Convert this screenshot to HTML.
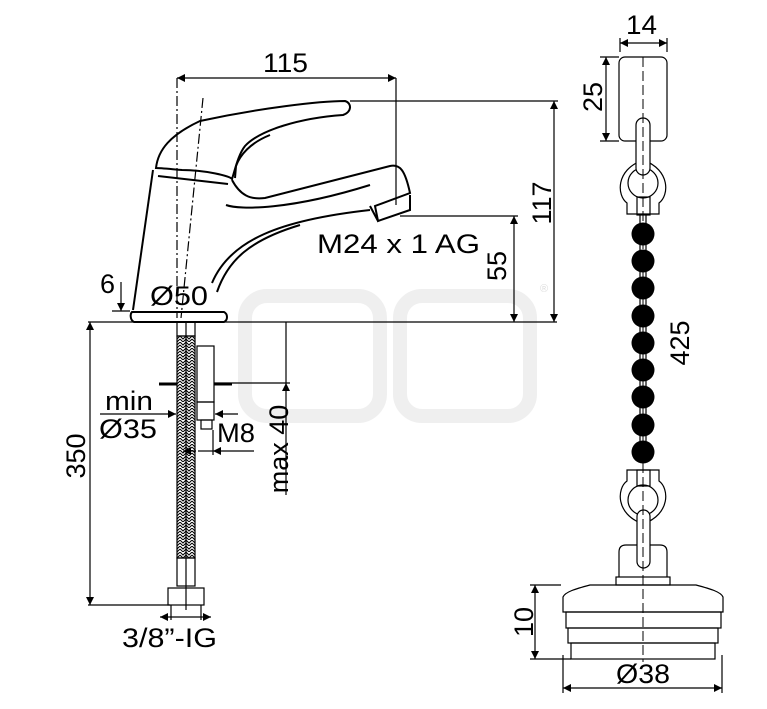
<!DOCTYPE html>
<html><head><meta charset="utf-8"><style>
html,body{margin:0;padding:0;background:#fff;width:767px;height:709px;overflow:hidden}
svg{display:block}
text{font-family:"Liberation Sans",sans-serif;fill:#000}
</style></head><body>
<svg width="767" height="709" viewBox="0 0 767 709" xmlns="http://www.w3.org/2000/svg">
<defs>
<marker id="a" viewBox="0 0 10 10" refX="10" refY="5" markerWidth="12" markerHeight="8" orient="auto-start-reverse" markerUnits="userSpaceOnUse"><path d="M0,0L10,5L0,10z" fill="#000"/></marker>
<pattern id="h" width="6" height="6" patternUnits="userSpaceOnUse"><path d="M0,0L3,3L6,0M0,3L3,6L6,3" stroke="#000" stroke-width="1" fill="none"/></pattern>
</defs>
<g fill="none" stroke="#efefef" stroke-width="14">
<rect x="245" y="296" width="135" height="120" rx="22"/>
<rect x="400" y="296" width="130" height="120" rx="22"/>
</g>
<text x="540" y="292" font-size="11" style="fill:#ddd">®</text>

<g stroke="#000" fill="none" stroke-width="1.2">
<g stroke-width="2">
<path d="M156,168 C158,150 170,135 200,121 C260,108 320,101 345,101 C352,103 352,112 343,115 C300,118 260,130 245,146 C238,155 235,170 232,179 C230,176 205,170 182,170 C170,169 160,168 156,168z"/>
<path d="M235,178 L236,166 C240,155 250,143 270,135"/>
<path d="M153,170 L133,310"/>
<path d="M158,176 L228,184"/>
<path d="M232,180 C240,195 250,200 265,198 L390,166 C400,164 405,170 410,193 L375,206 L378,221 L410,210 L410,195"/>
<path d="M370,206 L378,221"/>
<path d="M226,205 C240,210 290,210 370,185"/>
<path d="M212,283 C230,240 280,220 370,210"/>
<path d="M217,292 C228,260 250,240 300,225"/>
<path d="M132,312 L224,312 C228,314 228,320 224,322 L134,322 C130,320 130,314 132,312z"/>
</g>
<path d="M177,78 L177,318" stroke-dasharray="10,3,2,3"/>
<path d="M203,98 L181,318" stroke-dasharray="10,3,2,3"/>
<path d="M177,78 L396,78" marker-start="url(#a)" marker-end="url(#a)"/>
<path d="M396,78 L396,205"/>
<path d="M350,101 L558,101"/>
<path d="M554,101 L554,322" marker-start="url(#a)" marker-end="url(#a)"/>
<path d="M400,216 L518,216"/>
<path d="M514,216 L514,322" marker-start="url(#a)" marker-end="url(#a)"/>
<path d="M88,322 L557,322"/>
<path d="M121,282 L121,311" marker-end="url(#a)"/>
<path d="M112,311 L130,311"/>
<path d="M90,322 L90,605" marker-start="url(#a)" marker-end="url(#a)"/>
<path d="M88,605 L170,605"/>
<rect x="177" y="322" width="18" height="14"/>
<rect x="177" y="336" width="18" height="222" fill="url(#h)"/>
<rect x="177" y="558" width="18" height="28"/>
<rect x="168" y="588" width="36" height="17"/>
<path d="M186,322 L186,610"/>
<path d="M160,617 L211,617" marker-start="url(#a)" marker-end="url(#a)"/>
<path d="M171,605 L171,620 M201,605 L201,620"/>
<rect x="197" y="346" width="17" height="56"/>
<rect x="197" y="402" width="17" height="18"/>
<rect x="201" y="420" width="11" height="9"/>
<path d="M159,384 L177,384 M214,384 L232,384" stroke-width="3"/>
<path d="M214,383 L290,383"/>
<path d="M286,383 L286,495" marker-start="url(#a)"/>
<path d="M286,322 L286,383"/>
<path d="M100,414 L176,414" marker-end="url(#a)"/>
<path d="M238,414 L215,414" marker-end="url(#a)"/>
<path d="M254,451 L213,451" marker-end="url(#a)"/>
<path d="M196,451 L183,451" marker-end="url(#a)"/>
<path d="M213,430 L213,455"/>
<path d="M198,451 L213,451"/>

<!-- right: plug chain -->
<rect x="619" y="57" width="48" height="84" rx="6"/>
<path d="M620,43 L667,43" marker-start="url(#a)" marker-end="url(#a)"/>
<path d="M620,38 L620,52 M667,38 L667,52"/>
<path d="M606,57 L606,141" marker-start="url(#a)" marker-end="url(#a)"/>
<path d="M600,57 L619,57 M600,141 L619,141"/>
<rect x="640" y="214" width="6" height="245"/>
<path d="M627,214 L627,203 C617,196 615,170 643,160 C671,170 669,196 659,203 L659,214 Z" fill="#fff"/>
<circle cx="643" cy="183" r="15" fill="#fff"/>
<rect x="637" y="197" width="13" height="18"/>
<rect x="636" y="118" width="14" height="57" rx="7" fill="#fff"/>
<g fill="#000" stroke="none">
<circle cx="643" cy="234" r="11.5"/><circle cx="643" cy="261" r="11.5"/><circle cx="643" cy="288" r="11.5"/><circle cx="643" cy="316" r="11.5"/><circle cx="643" cy="343" r="11.5"/><circle cx="643" cy="370" r="11.5"/><circle cx="643" cy="397" r="11.5"/><circle cx="643" cy="425" r="11.5"/><circle cx="643" cy="452" r="11.5"/>
</g>
<path d="M627,470 L627,481 C617,488 615,514 643,524 C671,514 669,488 659,481 L659,470 Z" fill="#fff"/>
<circle cx="643" cy="500" r="15" fill="#fff"/>
<rect x="637" y="470" width="13" height="16"/>
<path d="M619,577 L619,552 C619,547 622,545 626,545 L660,545 C664,545 667,547 667,552 L667,577" fill="#fff"/>
<rect x="637" y="510" width="13" height="58" rx="6.5" fill="#fff"/>
<rect x="616" y="577" width="54" height="8"/>
<path d="M563,597 C565,592 575,589 590,585 L696,585 C711,589 721,592 723,597 L723,612 L563,612 Z"/>
<rect x="566" y="612" width="155" height="16"/>
<rect x="568" y="628" width="150" height="15"/>
<rect x="571" y="643" width="144" height="16"/>
<path d="M643,57 L643,662" stroke-dasharray="10,4" stroke-width="1"/>
<path d="M535,585 L535,659" marker-start="url(#a)" marker-end="url(#a)"/>
<path d="M530,585 L561,585 M530,659 L571,659"/>
<path d="M563,688 L722,688" marker-start="url(#a)" marker-end="url(#a)"/>
<path d="M563,655 L563,693 M722,655 L722,693"/>
</g>

<g font-size="27">
<text x="263" y="72" textLength="45" lengthAdjust="spacingAndGlyphs">115</text>
<text x="317" y="253" textLength="163" lengthAdjust="spacingAndGlyphs">M24 x 1 AG</text>
<text x="100" y="293">6</text>
<text x="150" y="305" textLength="58" lengthAdjust="spacingAndGlyphs">Ø50</text>
<text x="105" y="410" textLength="48" lengthAdjust="spacingAndGlyphs">min</text>
<text x="99" y="438" textLength="58" lengthAdjust="spacingAndGlyphs">Ø35</text>
<text x="217" y="442" textLength="38" lengthAdjust="spacingAndGlyphs">M8</text>
<text x="122" y="647" textLength="95" lengthAdjust="spacingAndGlyphs">3/8”-IG</text>
<text x="626" y="34" textLength="31" lengthAdjust="spacingAndGlyphs">14</text>
<text x="616" y="683" textLength="54" lengthAdjust="spacingAndGlyphs">Ø38</text>
<text transform="translate(551,203) rotate(-90)" text-anchor="middle">117</text>
<text transform="translate(506,266) rotate(-90)" text-anchor="middle">55</text>
<text transform="translate(85,456) rotate(-90)" text-anchor="middle">350</text>
<text transform="translate(288,449) rotate(-90)" text-anchor="middle">max 40</text>
<text transform="translate(602,97) rotate(-90)" text-anchor="middle">25</text>
<text transform="translate(689,343) rotate(-90)" text-anchor="middle">425</text>
<text transform="translate(533,622) rotate(-90)" text-anchor="middle">10</text>
</g>
</svg>
</body></html>
